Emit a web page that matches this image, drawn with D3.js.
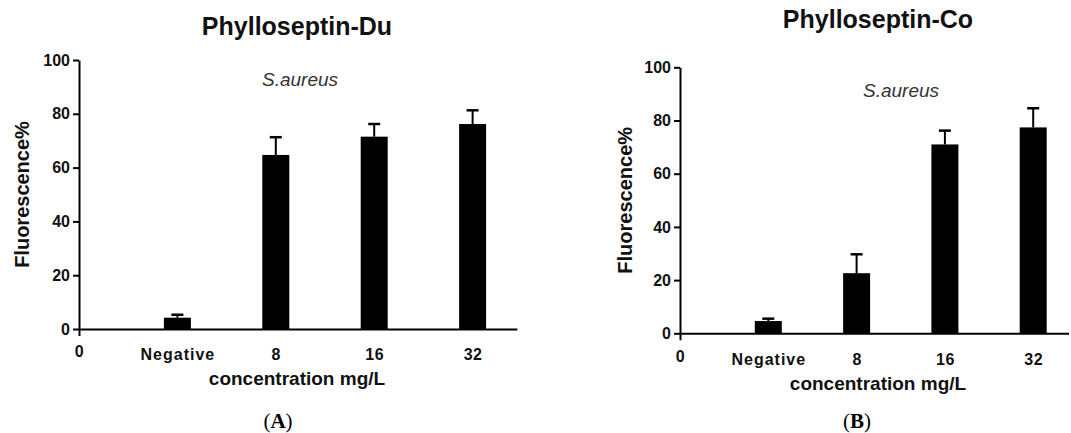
<!DOCTYPE html>
<html>
<head>
<meta charset="utf-8">
<script src="https://d3js.org/d3.v7.min.js"></script>
<style>
  body { margin: 0; background: #fff; }
  text { font-family: "Liberation Sans", Arial, sans-serif; }
</style>
</head>
<body>
<div id="chart"></div>
<script>
// データ
const categories = ["Negative", "8", "16", "32"];
const xTickLabels = ["0"].concat(categories);
const yTicks = [0, 20, 40, 60, 80, 100];

const duMean = [4.2, 64.7, 71.5, 76.2];
const duErr = [1.1, 6.6, 4.7, 5.1];
const coMean = [4.6, 22.6, 71.0, 77.4];
const coErr = [0.9, 7.1, 5.2, 7.2];

const svg = d3.select("#chart")
  .append("svg")
  .attr("width", 1071)
  .attr("height", 433);

// パネル設定
const panels = [
  {
    title: "Phylloseptin-Du", titleY: 35, letter: "A", letterX: 278,
    mean: duMean, err: duErr,
    x0: 79, step: 98.4, xMax: 4.45, yBottom: 329, yTop: 60,
    yLabelX: 29, xLabelX: 297, xLabelY: 385, noteX: 300, noteY: 86
  },
  {
    title: "Phylloseptin-Co", titleY: 28, letter: "B", letterX: 857,
    mean: coMean, err: coErr,
    x0: 680, step: 88.3, xMax: 4.4, yBottom: 333.3, yTop: 67.3,
    yLabelX: 632, xLabelX: 878, xLabelY: 390, noteX: 901, noteY: 97
  }
];

panels.forEach(function (p) {
  const g = svg.append("g");

  const x = d3.scaleLinear()
    .domain([0, p.xMax])
    .range([p.x0, p.x0 + p.xMax * p.step]);
  const y = d3.scaleLinear()
    .domain([0, 100])
    .range([p.yBottom, p.yTop]);

  // 棒
  const barW = 27;
  g.selectAll(".bar")
    .data(p.mean)
    .enter()
    .append("rect")
    .attr("x", (d, i) => x(i + 1) - barW / 2)
    .attr("y", (d) => y(d))
    .attr("width", barW)
    .attr("height", (d) => y(0) - y(d))
    .attr("fill", "#000");

  // エラーバー（上側のみ）
  g.selectAll(".err")
    .data(p.mean)
    .enter()
    .append("line")
    .attr("x1", (d, i) => x(i + 1))
    .attr("x2", (d, i) => x(i + 1))
    .attr("y1", (d) => y(d))
    .attr("y2", (d, i) => y(d + p.err[i]))
    .attr("stroke", "#000")
    .attr("stroke-width", 2);
  g.selectAll(".cap")
    .data(p.mean)
    .enter()
    .append("line")
    .attr("x1", (d, i) => x(i + 1) - 6)
    .attr("x2", (d, i) => x(i + 1) + 6)
    .attr("y1", (d, i) => y(d + p.err[i]))
    .attr("y2", (d, i) => y(d + p.err[i]))
    .attr("stroke", "#000")
    .attr("stroke-width", 2.5);

  // y軸
  const yAxis = g.append("g")
    .attr("transform", "translate(" + p.x0 + ",0)")
    .call(d3.axisLeft(y).tickValues(yTicks).tickSize(6).tickPadding(3).tickSizeOuter(0));
  yAxis.select(".domain").attr("stroke-width", 2);
  yAxis.selectAll(".tick line").attr("stroke-width", 2);
  yAxis.selectAll("text")
    .attr("font-size", 16)
    .attr("font-weight", "bold")
    .attr("fill", "#111");

  // x軸
  const xAxis = g.append("g")
    .attr("transform", "translate(0," + p.yBottom + ")")
    .call(d3.axisBottom(x)
      .tickValues([0, 1, 2, 3, 4])
      .tickFormat((d) => xTickLabels[d])
      .tickSize(0)
      .tickSizeOuter(0));
  xAxis.select(".domain").attr("stroke-width", 2);
  xAxis.selectAll("text")
    .attr("y", (d) => (d === 0 ? 17 : 20))
    .attr("font-size", 16)
    .attr("font-weight", "bold")
    .attr("letter-spacing", (d) => (d === 1 ? 1 : 0.5))
    .attr("fill", "#111");
  xAxis.selectAll(".tick")
    .filter((d) => d === 0)
    .select("line")
    .attr("y2", 7)
    .attr("stroke-width", 2);

  // タイトル
  g.append("text")
    .attr("x", p.xLabelX)
    .attr("y", p.titleY)
    .attr("text-anchor", "middle")
    .attr("font-size", 25)
    .attr("font-weight", "bold")
    .attr("fill", "#111")
    .text(p.title);

  // 菌名
  g.append("text")
    .attr("x", p.noteX)
    .attr("y", p.noteY)
    .attr("text-anchor", "middle")
    .attr("font-size", 19)
    .attr("font-style", "italic")
    .attr("fill", "#333")
    .text("S.aureus");

  // 軸ラベル
  g.append("text")
    .attr("x", p.xLabelX)
    .attr("y", p.xLabelY)
    .attr("text-anchor", "middle")
    .attr("font-size", 19)
    .attr("font-weight", "bold")
    .attr("fill", "#111")
    .text("concentration mg/L");

  g.append("text")
    .attr("transform", "translate(" + p.yLabelX + "," + (p.yBottom + p.yTop) / 2 + ") rotate(-90)")
    .attr("text-anchor", "middle")
    .attr("font-size", 20)
    .attr("font-weight", "bold")
    .attr("fill", "#111")
    .text("Fluorescence%");

  // パネル記号
  const lt = svg.append("text")
    .attr("x", p.letterX)
    .attr("y", 428)
    .attr("text-anchor", "middle")
    .attr("font-size", 21)
    .style("font-family", "Liberation Serif, Times New Roman, serif")
    .attr("fill", "#000");
  lt.append("tspan").text("(");
  lt.append("tspan").attr("font-weight", "bold").text(p.letter);
  lt.append("tspan").text(")");
});
</script>
</body>
</html>
